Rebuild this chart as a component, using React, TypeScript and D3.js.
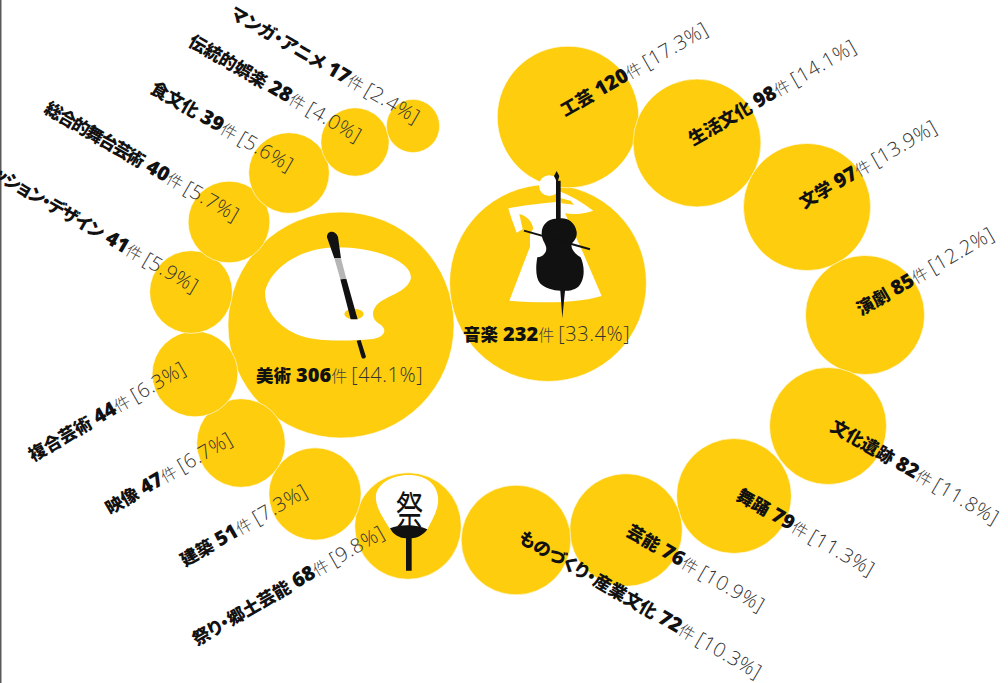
import React, { useEffect, useRef } from "react";
import * as d3 from "d3";

// Survey results by field: count of entries and share of respondents.
const categories = [
  "美術", "音楽", "工芸", "生活文化", "文学", "演劇", "文化遺跡", "舞踊", "芸能",
  "ものづくり・産業文化", "祭り・郷土芸能", "建築", "映像", "複合芸術",
  "ファッション・デザイン", "総合的舞台芸術", "食文化", "伝統的娯楽", "マンガ・アニメ",
];
const counts = [306, 232, 120, 98, 97, 85, 82, 79, 76, 72, 68, 51, 47, 44, 41, 40, 39, 28, 17];
const shares = [44.1, 33.4, 17.3, 14.1, 13.9, 12.2, 11.8, 11.3, 10.9, 10.3, 9.8, 7.3, 6.7, 6.3, 5.9, 5.7, 5.6, 4.0, 2.4];

// Hand-arranged ring of bubbles, and where each rotated caption begins.
const centres: [number, number][] = [
  [341, 325], [548, 283], [568, 117], [697, 143], [807, 207], [865, 315], [828, 426],
  [734, 496], [626, 530], [516, 540], [408, 526], [315, 494], [241, 443], [195, 374],
  [191, 292], [229, 222], [289, 173], [355, 142], [413, 126],
];
const captionStarts: [number, number, number][] = [
  [256, 382, 0], [463, 341, 0], [565, 117, -30], [693, 146, -30], [804, 209, -30], [861, 316, -30],
  [829, 430, 30], [735, 499, 30], [625, 535, 30], [517, 541, 30], [197, 646, -30],
  [185, 567, -30], [110, 515, -30], [33, 462, -30],
  [-33, 163, 30], [43, 112, 30], [149, 92, 30], [187, 45, 30], [229, 17, 30],
];
// The two longest names on the upper left are set tighter than the rest.
const nameTracking = [0, 0, 0, 0, 0, 0, 0, 0, 0, 0, 0, 0, 0, 0, -1.2, -1.7, 0, 0, 0];

const YELLOW = "#fdcd0e";
const INK = "#111111";
const JP = "'Noto Sans CJK JP', 'Noto Sans', sans-serif";
const LATIN = "'Open Sans', 'Noto Sans CJK JP', sans-serif";

export default function App() {
  const ref = useRef<SVGSVGElement>(null);

  useEffect(() => {
    const svg = d3.select(ref.current);
    svg.selectAll("*").remove();

    const radius = d3.scaleSqrt().domain([0, d3.max(counts) as number]).range([0, 113]);
    const pct = d3.format(".1f");

    svg.append("rect").attr("width", 1008).attr("height", 683).attr("fill", "#ffffff");
    svg.append("rect").attr("width", 1.5).attr("height", 683).attr("fill", "#5a5a5a");

    svg.append("g")
      .selectAll("circle")
      .data(counts)
      .join("circle")
      .attr("cx", (_, i) => centres[i][0])
      .attr("cy", (_, i) => centres[i][1])
      .attr("r", (d) => radius(d))
      .attr("fill", YELLOW)
      .attr("stroke", "#ffffff")
      .attr("stroke-width", 0.6);

    // Palette and brush for fine art.
    const palette = svg.append("g").attr("transform", "translate(230,210) scale(0.3333)");
    palette.append("path").attr("fill", "#ffffff").attr(
      "d",
      "M105,245 C120,180 200,115 320,112 C430,112 545,150 543,205 C530,250 470,255 440,285 C420,310 430,330 445,340 C480,360 460,385 420,388 C380,392 290,395 240,385 C170,370 105,320 105,245 Z",
    );
    palette.append("ellipse").attr("cx", 372).attr("cy", 312).attr("rx", 29).attr("ry", 16).attr("fill", YELLOW);
    palette.append("path").attr("fill", "#111111").attr(
      "d",
      "M291,82 C290,62 315,58 324,80 L333,145 L313,145 Z M331,208 L349,206 L383,328 L362,328 Z M380,392 L392,390 L408,440 C404,448 396,447 394,440 Z",
    );
    palette.append("path").attr("fill", "#b5b5b5").attr("d", "M313,145 L333,145 L349,206 L331,208 Z");

    // Cellist for music.
    const cellist = svg.append("g").attr("transform", "translate(450,170) scale(0.3333)");
    cellist.append("circle").attr("cx", 298).attr("cy", 47).attr("r", 31).attr("fill", "#ffffff");
    cellist.append("path").attr("fill", "#ffffff").attr(
      "d",
      "M175,115 C220,105 280,100 320,95 L325,62 C360,75 395,95 430,122 C400,132 370,135 345,130 L400,250 L455,378 C380,400 280,400 178,392 L240,230 L240,195 L250,175 C245,155 235,140 208,132 L218,178 L200,188 C190,160 180,135 175,115 Z",
    );
    cellist.append("path").attr("fill", YELLOW).attr("d", "M330,84 L362,92 L372,104 L335,100 Z");
    cellist.append("path").attr("fill", "#111111").attr(
      "d",
      "M328,145 C350,142 375,155 380,185 C382,205 372,212 365,222 C362,235 372,250 392,262 C405,290 405,330 385,350 C365,365 345,362 345,362 L337,445 L331,362 C310,362 285,355 270,340 C255,320 258,285 262,262 C282,260 292,245 288,230 C285,218 275,210 275,190 C275,160 300,145 318,146 L318,30 L312,18 L320,3 L328,18 L324,32 L332,32 L332,146 Z",
    );
    cellist.append("line")
      .attr("x1", 222).attr("y1", 182).attr("x2", 420).attr("y2", 238)
      .attr("stroke", "#111111").attr("stroke-width", 6);

    // Festival fan for traditional performing arts.
    const fan = svg.append("g").attr("transform", "translate(350,470) scale(0.3333)");
    fan.append("path").attr("fill", "#ffffff").attr(
      "d",
      "M78,75 C85,35 135,15 175,15 C220,15 258,35 264,80 C268,120 245,150 232,178 L120,178 C105,150 74,115 78,75 Z",
    );
    fan.append("path").attr("fill", "#111111").attr("d", "M120,175 C150,162 200,162 232,178 C222,195 198,205 185,205 L185,302 L168,302 L168,205 C150,205 130,195 120,175 Z");
    svg.append("text")
      .attr("transform", "translate(409.5,524.5) scale(1,1.49)")
      .attr("text-anchor", "middle")
      .attr("font-family", JP)
      .attr("font-size", 27)
      .attr("font-weight", 400)
      .attr("fill", INK)
      .text("祭");

    // Captions: bold name and count, then a lighter unit and share.
    const caption = svg.append("g")
      .selectAll("text")
      .data(categories)
      .join("text")
      .attr("transform", (_, i) => {
        const [x, y, a] = captionStarts[i];
        return `translate(${x},${y}) rotate(${a})`;
      })
      .attr("font-family", JP)
      .style("font-feature-settings", "'palt'");

    caption.append("tspan")
      .attr("font-size", 17.5)
      .attr("font-weight", 900)
      .attr("letter-spacing", (_, i) => nameTracking[i])
      .attr("fill", INK)
      .text((d) => d);
    caption.append("tspan")
      .attr("dx", (_, i) => 5 - nameTracking[i])
      .attr("font-family", LATIN)
      .attr("font-size", 20)
      .attr("font-weight", 800)
      .attr("fill", INK)
      .text((_, i) => counts[i]);
    caption.append("tspan")
      .attr("font-size", 16)
      .attr("font-weight", 300)
      .attr("fill", "#444444")
      .text("件");
    caption.append("tspan")
      .attr("dx", 4)
      .attr("font-family", LATIN)
      .attr("font-size", 20)
      .attr("font-weight", 300)
      .attr("letter-spacing", 0.6)
      .attr("fill", "#333333")
      .text((_, i) => `[${pct(shares[i])}%]`);
  }, []);

  return (
    <svg
      ref={ref}
      width={1008}
      height={683}
      style={{ position: "fixed", left: 0, top: 0, display: "block" }}
    />
  );
}
